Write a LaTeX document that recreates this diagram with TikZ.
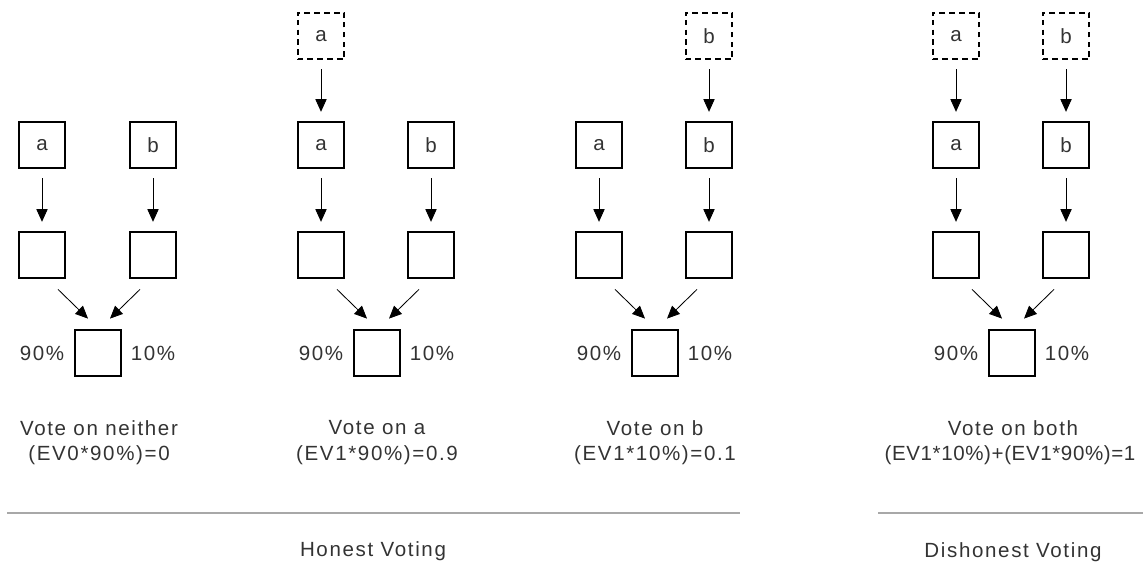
\documentclass[tikz,border=0pt]{standalone}
\usepackage{fontspec}
\setmainfont[LetterSpace=8]{Liberation Sans}
\usetikzlibrary{arrows.meta}
\definecolor{ink}{HTML}{333333}
\definecolor{rulegray}{HTML}{A8A8A8}

\begin{document}
\begin{tikzpicture}[x=0.025cm, y=-0.025cm,
		every node/.style={font=\fontsize{14.6}{17}\selectfont, text=ink},
		box/.style={draw, line width=1.4pt, minimum size=1.17cm, inner sep=0pt},
		ghost/.style={box, dash pattern=on 4pt off 3pt},
		arr/.style={-{Triangle[length=9pt, width=8pt]}, line width=0.6pt, shorten <=0.22cm, shorten >=0.22cm},
		diag/.style={-{Triangle[length=9pt, width=8pt]}, line width=0.6pt}]
				\useasboundingbox (0, 0) rectangle (1143, 565);
				
				% vote on neither
				\node[box] (a1) at (42, 145) {a};
				\node[box] (b1) at (153, 145) {b};
				\node[box] (ma1) at (42, 255) {};
				\node[box] (mb1) at (153, 255) {};
				\node[box] (r1) at (98, 353) {};
				\node (p1) at (42, 353) {90\%};
				\node (q1) at (153, 353) {10\%};
				\draw[arr] (a1) -- (ma1);
				\draw[arr] (b1) -- (mb1);
				\draw[diag] ([shift={(16, 10)}]ma1.south) -- ([shift={(-10, -10)}]r1.north);
				\draw[diag] ([shift={(-13, 10)}]mb1.south) -- ([shift={(12, -10)}]r1.north);
				\node (t1) at (99, 428) {Vote on neither};
				\node (e1) at (99, 455) {(EV0*90\%)=0};
				
				% vote on a
				\node[ghost] (g2) at (321, 36) {a};
				\node[box] (a2) at (321, 145) {a};
				\node[box] (b2) at (431, 145) {b};
				\node[box] (ma2) at (321, 255) {};
				\node[box] (mb2) at (431, 255) {};
				\node[box] (r2) at (377, 353) {};
				\node (p2) at (321, 353) {90\%};
				\node (q2) at (432, 353) {10\%};
				\draw[arr] (g2) -- (a2);
				\draw[arr] (a2) -- (ma2);
				\draw[arr] (b2) -- (mb2);
				\draw[diag] ([shift={(16, 10)}]ma2.south) -- ([shift={(-10, -10)}]r2.north);
				\draw[diag] ([shift={(-12, 10)}]mb2.south) -- ([shift={(12, -10)}]r2.north);
				\node (t2) at (377, 428) {Vote on a};
				\node (e2) at (377, 455) {(EV1*90\%)=0.9};
				
				% vote on b
				\node[ghost] (g3) at (709, 36) {b};
				\node[box] (a3) at (599, 145) {a};
				\node[box] (b3) at (709, 145) {b};
				\node[box] (ma3) at (599, 255) {};
				\node[box] (mb3) at (709, 255) {};
				\node[box] (r3) at (655, 353) {};
				\node (p3) at (599, 353) {90\%};
				\node (q3) at (710, 353) {10\%};
				\draw[arr] (g3) -- (b3);
				\draw[arr] (a3) -- (ma3);
				\draw[arr] (b3) -- (mb3);
				\draw[diag] ([shift={(16, 10)}]ma3.south) -- ([shift={(-10, -10)}]r3.north);
				\draw[diag] ([shift={(-12, 10)}]mb3.south) -- ([shift={(12, -10)}]r3.north);
				\node (t3) at (655, 428) {Vote on b};
				\node (e3) at (655, 455) {(EV1*10\%)=0.1};
				
				% vote on both
				\node[ghost] (ga4) at (956, 36) {a};
				\node[ghost] (gb4) at (1066, 36) {b};
				\node[box] (a4) at (956, 145) {a};
				\node[box] (b4) at (1066, 145) {b};
				\node[box] (ma4) at (956, 255) {};
				\node[box] (mb4) at (1066, 255) {};
				\node[box] (r4) at (1012, 353) {};
				\node (p4) at (956, 353) {90\%};
				\node (q4) at (1067, 353) {10\%};
				\draw[arr] (ga4) -- (a4);
				\draw[arr] (gb4) -- (b4);
				\draw[arr] (a4) -- (ma4);
				\draw[arr] (b4) -- (mb4);
				\draw[diag] ([shift={(16, 10)}]ma4.south) -- ([shift={(-10, -10)}]r4.north);
				\draw[diag] ([shift={(-12, 10)}]mb4.south) -- ([shift={(12, -10)}]r4.north);
				\node (t4) at (1013, 428) {Vote on both};
				\node (e4) at (1010, 455) {\addfontfeature{LetterSpace=3}(EV1*10\%)+(EV1*90\%)=1};
				
				\draw[rulegray, line width=1.2pt] (7, 513) -- (740, 513);
				\draw[rulegray, line width=1.2pt] (878, 513) -- (1143, 513);
				\node (honest) at (373, 551) {Honest Voting};
				\node (dishonest) at (1013, 552) {Dishonest Voting};
			\end{tikzpicture}
\end{document}
